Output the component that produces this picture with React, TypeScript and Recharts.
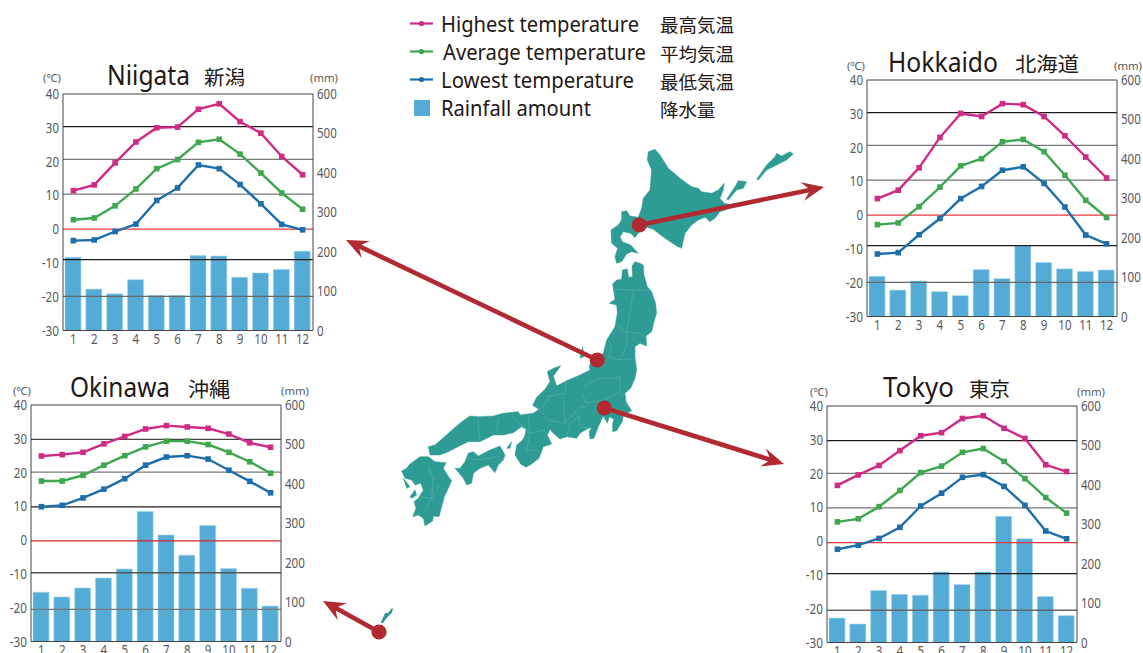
import React from "react";
import { ComposedChart, Bar, Line, XAxis, YAxis, ReferenceLine } from "recharts";

const months = ["1", "2", "3", "4", "5", "6", "7", "8", "9", "10", "11", "12"];
const tempTicks = [-30, -20, -10, 0, 10, 20, 30, 40];
const rainTicks = [0, 100, 200, 300, 400, 500, 600];

const niigataHigh = [11.4, 13.1, 19.6, 25.8, 30.0, 30.2, 35.5, 37.1, 31.8, 28.4, 21.5, 16.1];
const niigataAvg = [2.8, 3.3, 6.9, 11.9, 17.9, 20.6, 25.7, 26.6, 22.2, 16.6, 10.7, 5.9];
const niigataLow = [-3.4, -3.2, -0.7, 1.5, 8.5, 12.2, 19.0, 17.9, 13.2, 7.5, 1.4, -0.2];
const niigataRain = [186, 105, 93, 129, 89, 89, 190, 189, 135, 146, 155, 201];

const hokkaidoHigh = [4.9, 7.4, 14.0, 23.0, 30.1, 29.2, 33.0, 32.7, 29.2, 23.5, 17.2, 11.0];
const hokkaidoAvg = [-2.8, -2.3, 2.5, 8.3, 14.6, 16.7, 21.7, 22.4, 18.8, 11.8, 4.4, -0.7];
const hokkaidoLow = [-11.5, -11.1, -5.8, -1.0, 4.9, 8.5, 13.3, 14.3, 9.4, 2.4, -5.9, -8.5];
const hokkaidoRain = [102, 67, 90, 63, 53, 119, 96, 179, 137, 121, 114, 118];

const okinawaHigh = [24.9, 25.3, 26.0, 28.5, 30.7, 32.9, 33.9, 33.5, 33.1, 31.4, 28.8, 27.5];
const okinawaAvg = [17.5, 17.5, 19.2, 22.2, 25.0, 27.6, 29.3, 29.3, 28.3, 26.0, 23.2, 19.8];
const okinawaLow = [9.9, 10.3, 12.5, 15.1, 18.2, 22.2, 24.6, 25.0, 24.0, 20.7, 17.4, 14.0];
const okinawaRain = [125, 113, 136, 161, 184, 330, 270, 219, 294, 185, 135, 90];

const tokyoHigh = [16.5, 19.6, 22.4, 26.8, 31.2, 32.1, 36.3, 37.1, 33.4, 30.4, 22.6, 20.6];
const tokyoAvg = [5.7, 6.6, 10.2, 15.0, 20.3, 22.2, 26.3, 27.4, 23.6, 18.5, 12.9, 8.3];
const tokyoLow = [-2.4, -1.2, 0.8, 4.1, 10.4, 14.2, 18.9, 19.7, 16.2, 10.6, 3.0, 0.7];
const tokyoRain = [62, 47, 132, 122, 120, 179, 147, 179, 320, 263, 117, 68];

// The source's printed rules sit slightly off the regular tick spacing.
const ruleLevels = [30.35, 20.65, 10.35, 0.03, -9.05, -19.9];
const tokyoRuleLevels = [29.74, 20.08, 9.82, -0.43, -9.6, -20.45];
const okinawaRuleLevels = [29.8, 20.12, 9.83, -0.2, -9.65, -20.5];
const ruleColors = ["#1c1c1c", "#777", "#777", "#E8383D", "#1c1c1c", "#666"];
const okinawaRuleColors = ["#444", "#777", "#1c1c1c", "#D6242B", "#555", "#777"];

const PINK = "#CF2A84";
const GREEN = "#3EA74F";
const BLUE = "#1D6FAC";
const RAIN = "#54ACD6";
const INK = "#231815";
const GRAY = "#58585A";
const TEAL = "#2E9C94";
const RED = "#B12A32";

const AXIS_W = 45;
const PLOT_W = 250;
const PLOT_H = 236.5;
const sans = "'Noto Sans',sans-serif";
const cjk = "'Noto Sans CJK JP',sans-serif";

const squareDot = (color: string) => (p: any) => (
  <rect key={p.index} x={p.cx - 2.8} y={p.cy - 2.8} width={5.6} height={5.6} fill={color} />
);

const labelWidth = (s: string) => s.replace("-", "").length * 6.6 + (s.startsWith("-") ? 4 : 0);

const axisTick = (dy: number) => (p: any) => {
  const s = String(p.payload.value);
  return (
    <text
      x={p.x}
      y={p.y}
      dy={dy}
      textAnchor={p.textAnchor}
      fontFamily={sans}
      fontSize={14.5}
      fill={GRAY}
      textLength={labelWidth(s)}
      lengthAdjust="spacingAndGlyphs"
    >
      {s}
    </text>
  );
};

function Climate({ left, top, high, avg, low, rain, rules, colors }: any) {
  const rows = months.map((m, i) => ({ m, high: high[i], avg: avg[i], low: low[i], rain: rain[i] }));
  return (
    <div style={{ position: "absolute", left: left - AXIS_W, top: top - 10 }}>
      <ComposedChart
        width={PLOT_W + AXIS_W * 2}
        height={PLOT_H + 40}
        data={rows}
        margin={{ top: 10, right: 0, bottom: 0, left: 0 }}
      >
        <XAxis dataKey="m" height={30} tickSize={0} tickMargin={3} tickLine={false} interval={0} stroke="#444" tick={axisTick(10)} />
        <YAxis yAxisId="t" width={AXIS_W} domain={[-30, 40]} ticks={tempTicks} interval={0} tickSize={0} tickMargin={4} tickLine={false} stroke="#444" tick={axisTick(5)} />
        <YAxis yAxisId="r" orientation="right" width={AXIS_W} domain={[0, 600]} ticks={rainTicks} interval={0} tickSize={0} tickMargin={4} tickLine={false} stroke="#444" tick={axisTick(5)} />
        <ReferenceLine yAxisId="t" y={40} stroke="#444" strokeWidth={1} />
        {rules.map((v: number, i: number) => (
          <ReferenceLine key={i} yAxisId="t" y={v} stroke={colors[i]} strokeWidth={1.3} />
        ))}
        <Bar yAxisId="r" dataKey="rain" fill={RAIN} stroke="#A5D6EC" strokeWidth={0.6} barSize={16} isAnimationActive={false} />
        <Line yAxisId="t" dataKey="high" stroke={PINK} strokeWidth={2.4} dot={squareDot(PINK)} activeDot={false} isAnimationActive={false} />
        <Line yAxisId="t" dataKey="avg" stroke={GREEN} strokeWidth={2.4} dot={squareDot(GREEN)} activeDot={false} isAnimationActive={false} />
        <Line yAxisId="t" dataKey="low" stroke={BLUE} strokeWidth={2.4} dot={squareDot(BLUE)} activeDot={false} isAnimationActive={false} />
      </ComposedChart>
    </div>
  );
}

const pts = (a: number[][]) => a.map((p) => p.join(",")).join(" ");

const landShapes = [
  [[775,35],[795,28],[810,45],[835,85],[870,115],[905,140],[925,145],[935,155],[965,160],[985,150],[1003,130],[1000,150],[990,175],[1003,190],[1030,195],[1020,205],[990,215],[975,235],[960,245],[945,232],[925,240],[905,255],[885,280],[875,325],[860,318],[825,295],[790,268],[770,262],[750,272],[735,293],[722,280],[700,275],[690,290],[697,305],[722,315],[745,340],[725,335],[710,342],[695,365],[680,370],[675,350],[683,325],[665,310],[663,270],[685,255],[695,240],[695,215],[710,212],[720,228],[745,232],[755,205],[760,175],[780,150],[785,90],[772,60]],
  [[1010,178],[1035,140],[1045,122],[1070,125],[1060,145],[1040,150],[1015,180]],
  [[1100,118],[1130,75],[1155,50],[1160,40],[1175,48],[1200,35],[1210,42],[1190,60],[1160,75],[1130,90],[1105,120]],
  [[697,390],[712,387],[716,412],[728,410],[726,378],[735,365],[750,370],[760,375],[762,405],[772,440],[785,455],[797,490],[800,520],[792,545],[785,575],[768,588],[770,618],[750,610],[735,620],[735,650],[740,690],[735,715],[722,745],[705,760],[708,785],[725,812],[700,825],[697,845],[680,872],[668,875],[668,850],[672,838],[658,830],[652,850],[640,828],[625,860],[612,895],[600,897],[598,875],[605,862],[590,868],[570,880],[560,895],[530,890],[510,897],[490,880],[480,868],[472,885],[485,912],[460,920],[447,955],[425,972],[408,982],[392,972],[375,945],[380,915],[398,900],[405,885],[408,868],[395,860],[370,878],[340,885],[310,885],[270,905],[235,905],[195,925],[175,935],[150,945],[120,945],[115,920],[135,915],[175,880],[215,845],[240,828],[265,830],[310,828],[340,820],[385,815],[390,825],[430,820],[447,808],[428,796],[440,772],[465,748],[480,725],[472,695],[490,685],[512,677],[500,695],[490,708],[500,738],[530,722],[570,705],[600,690],[598,675],[620,655],[640,640],[650,600],[675,560],[682,520],[680,495],[658,490],[675,478],[668,432],[680,420],[695,418]],
  [[210,985],[225,965],[235,940],[250,935],[265,948],[300,930],[330,918],[345,945],[340,960],[325,975],[315,998],[295,975],[270,985],[250,1000],[245,1030],[230,1035],[220,1015],[195,985]],
  [[35,993],[50,985],[60,972],[90,950],[115,950],[135,965],[168,968],[160,985],[172,1005],[185,1022],[175,1045],[163,1070],[155,1100],[147,1130],[130,1128],[128,1143],[105,1158],[100,1135],[85,1125],[68,1130],[78,1105],[72,1085],[85,1075],[100,1050],[92,1030],[75,1035],[65,1020],[45,1015]],
  [[350,925],[365,905],[360,925]],
  [[570,655],[578,620],[582,650]],
  [[60,1070],[75,1050],[80,1065],[65,1075]],
  [[40,1015],[60,1040],[50,1045]],
];
const borderLines = [
  [[680,448],[735,450],[785,450]], [[730,450],[720,520],[710,570]], [[680,555],[710,575],[750,580],[765,590]],
  [[655,600],[665,630],[655,650],[690,660],[710,615],[710,575]], [[690,660],[735,655]],
  [[630,715],[660,715],[690,710],[690,755],[700,770]], [[470,770],[525,760],[530,720]], [[580,740],[630,715]],
  [[575,760],[590,790],[640,780],[690,755]], [[450,810],[480,770]], [[520,770],[525,850],[475,840],[450,810]],
  [[525,850],[570,800],[590,800]], [[565,820],[570,860],[600,865]], [[530,890],[540,850],[570,830]],
  [[265,830],[265,870],[270,900]], [[325,835],[320,880]], [[365,825],[400,860],[420,880],[465,870]],
  [[415,825],[420,880],[410,930],[440,930]], [[235,955],[270,960],[320,950]],
  [[115,980],[130,1020],[125,1075],[105,1110]], [[85,1070],[125,1075],[150,1030]],
];

function Arrow({ from, to }: { from: number[]; to: number[] }) {
  const dx = to[0] - from[0];
  const dy = to[1] - from[1];
  const len = Math.hypot(dx, dy);
  const ux = dx / len;
  const uy = dy / len;
  const at = (back: number, side: number) => [to[0] - ux * back - uy * side, to[1] - uy * back + ux * side];
  return (
    <g>
      <line x1={from[0]} y1={from[1]} x2={at(12, 0)[0]} y2={at(12, 0)[1]} stroke={RED} strokeWidth={4.6} />
      <polygon points={pts([to, at(22, 9.5), at(14, 0), at(22, -9.5)])} fill={RED} />
      <circle cx={from[0]} cy={from[1]} r={7.6} fill={RED} />
    </g>
  );
}

function Title({ x, w, y, en, jx, jw, jp }: any) {
  return (
    <g fill={INK}>
      <text x={x} y={y} fontFamily={sans} fontSize={27} textLength={w} lengthAdjust="spacingAndGlyphs">{en}</text>
      <text x={jx} y={y} fontFamily={cjk} fontSize={20} textLength={jw} lengthAdjust="spacingAndGlyphs">{jp}</text>
    </g>
  );
}

function Units({ cx, mx, y }: any) {
  return (
    <g fill={GRAY} fontFamily={sans} fontSize={11}>
      <text x={cx} y={y} textLength={18} lengthAdjust="spacingAndGlyphs">(℃)</text>
      <text x={mx} y={y} textLength={28} lengthAdjust="spacingAndGlyphs">(mm)</text>
    </g>
  );
}

const legendRows = [
  { color: PINK, y: 23.5, x: 441, w: 198, base: 32, en: "Highest temperature", jp: "最高気温", jb: 32 },
  { color: GREEN, y: 51.5, x: 443, w: 203, base: 60, en: "Average temperature", jp: "平均気温", jb: 61 },
  { color: BLUE, y: 79.5, x: 441, w: 193, base: 88, en: "Lowest temperature", jp: "最低気温", jb: 89 },
];

export default function App() {
  return (
    <div style={{ position: "absolute", left: 0, top: 0, width: 1143, height: 653, overflow: "hidden", background: "#fff" }}>
      <Climate left={62.7} top={93.7} high={niigataHigh} avg={niigataAvg} low={niigataLow} rain={niigataRain} rules={ruleLevels} colors={ruleColors} />
      <Climate left={866.7} top={80} high={hokkaidoHigh} avg={hokkaidoAvg} low={hokkaidoLow} rain={hokkaidoRain} rules={ruleLevels} colors={ruleColors} />
      <Climate left={31.3} top={404.7} high={okinawaHigh} avg={okinawaAvg} low={okinawaLow} rain={okinawaRain} rules={okinawaRuleLevels} colors={okinawaRuleColors} />
      <Climate left={827.3} top={405.7} high={tokyoHigh} avg={tokyoAvg} low={tokyoLow} rain={tokyoRain} rules={tokyoRuleLevels} colors={ruleColors} />
      <svg width={1143} height={653} style={{ position: "absolute", left: 0, top: 0, pointerEvents: "none" }}>
        <g transform="translate(390,140) scale(0.3333)">
          {landShapes.map((s, i) => <polygon key={i} points={pts(s)} fill={TEAL} stroke={TEAL} strokeWidth={1.5} strokeLinejoin="round" />)}
          {borderLines.map((s, i) => <polyline key={i} points={pts(s)} fill="none" stroke="#6DBBB4" strokeWidth={1.3} />)}
        </g>
        <polygon points="380.7,623 385,613 388,613 392,608 393,609 391.7,613 386.7,618 383,623" fill={TEAL} />

        <Arrow from={[639.3, 225]} to={[824, 187]} />
        <Arrow from={[597.3, 360]} to={[346, 240]} />
        <Arrow from={[604.3, 408]} to={[784, 464]} />
        <Arrow from={[379, 632]} to={[323, 601]} />

        <Title x={107} w={83} y={85} en="Niigata" jx={204} jw={41} jp="新潟" />
        <Title x={888} w={110} y={72} en="Hokkaido" jx={1015} jw={64} jp="北海道" />
        <Title x={70} w={100} y={397} en="Okinawa" jx={188} jw={42} jp="沖縄" />
        <Title x={883} w={71} y={397} en="Tokyo" jx={969} jw={41} jp="東京" />

        <Units cx={43} mx={310} y={82} />
        <Units cx={847} mx={1114} y={70} />
        <Units cx={13} mx={281} y={395} />
        <Units cx={810} mx={1077} y={396} />

        {legendRows.map((r) => (
          <g key={r.en}>
            <line x1={410} x2={433} y1={r.y} y2={r.y} stroke={r.color} strokeWidth={2.2} />
            <circle cx={421.5} cy={r.y} r={2.6} fill={r.color} />
            <text x={r.x} y={r.base} fontFamily={sans} fontSize={21} fill={INK} textLength={r.w} lengthAdjust="spacingAndGlyphs">{r.en}</text>
            <text x={660} y={r.jb} fontFamily={cjk} fontSize={18.5} fill={INK}>{r.jp}</text>
          </g>
        ))}
        <rect x={414} y={100} width={16} height={16} fill={RAIN} />
        <text x={441} y={116} fontFamily={sans} fontSize={21} fill={INK} textLength={150} lengthAdjust="spacingAndGlyphs">Rainfall amount</text>
        <text x={660} y={117} fontFamily={cjk} fontSize={18.5} fill={INK}>降水量</text>
      </svg>
    </div>
  );
}
